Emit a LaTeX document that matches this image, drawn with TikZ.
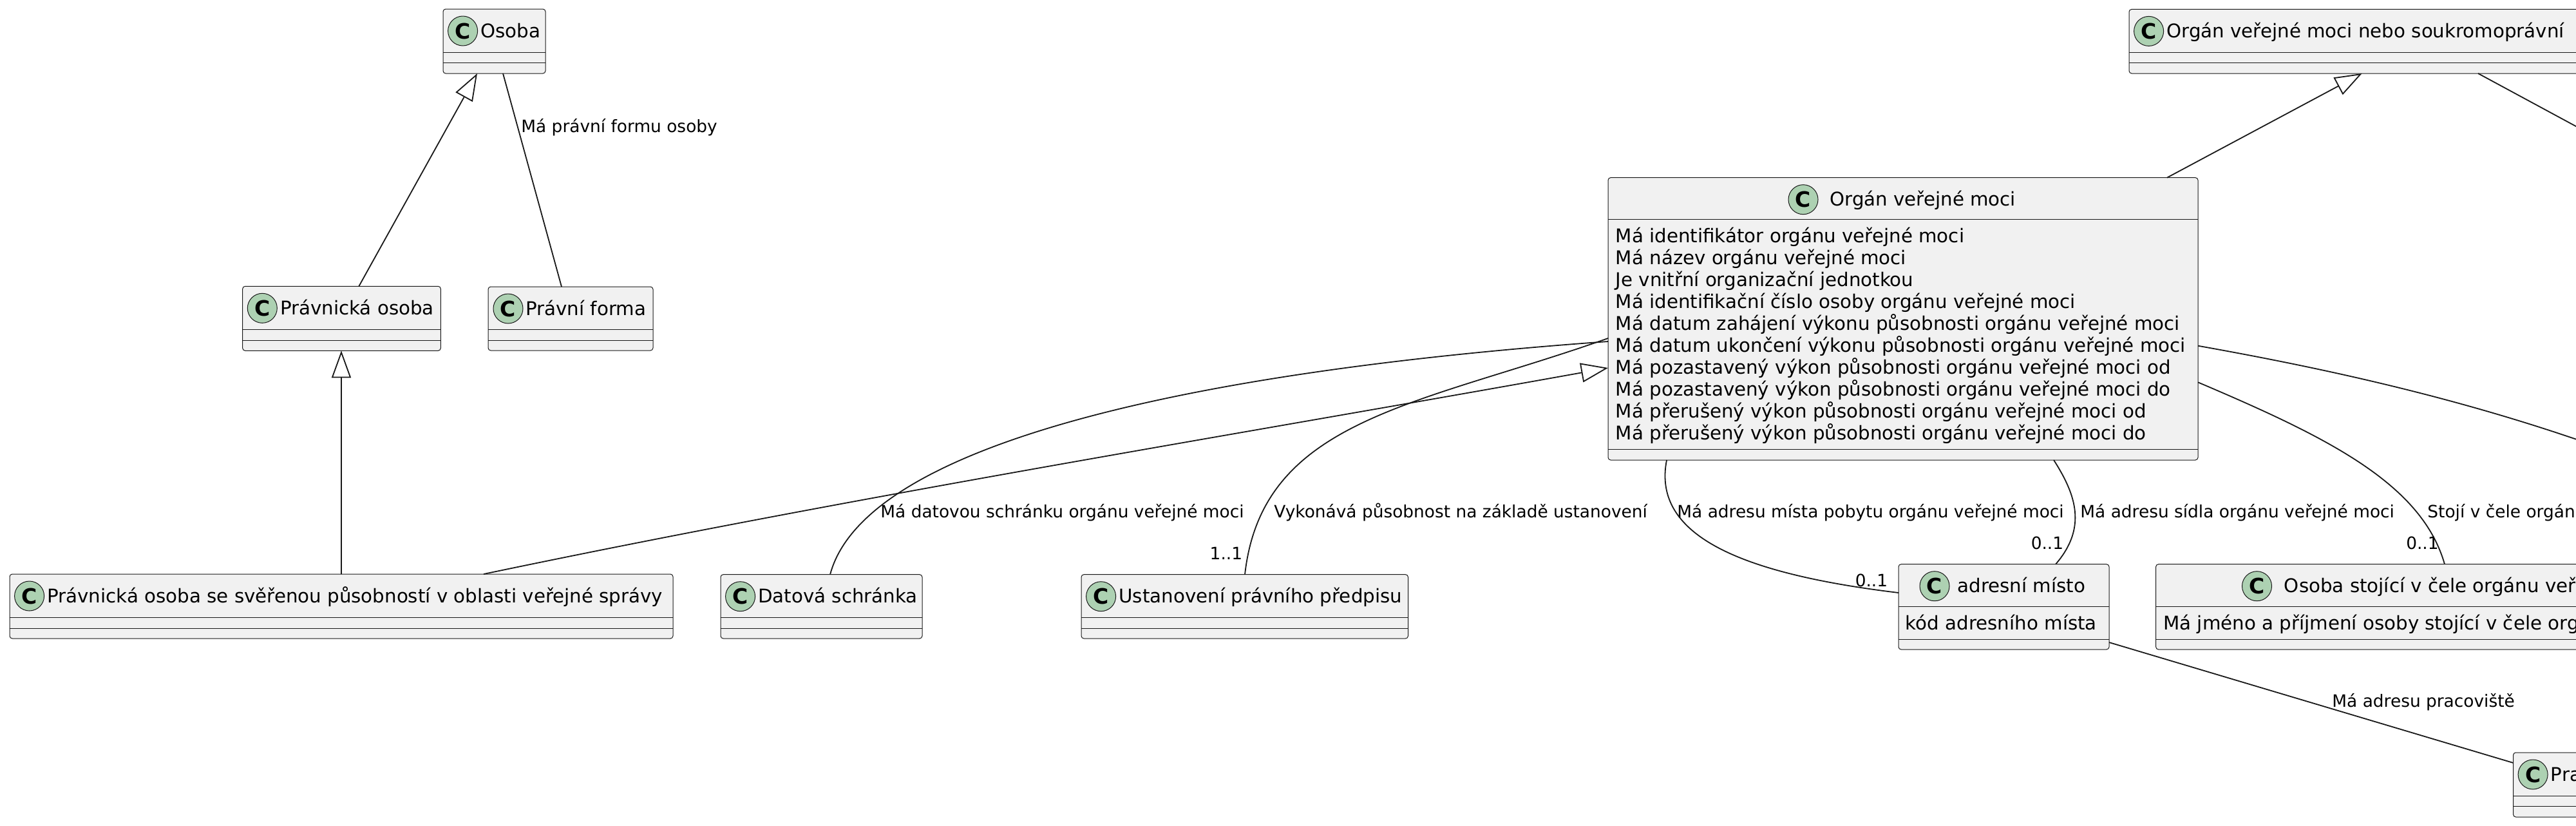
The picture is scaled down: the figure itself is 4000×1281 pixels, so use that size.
\documentclass[tikz,border=0pt]{standalone}
\usepackage{fontspec}
\setmainfont{DejaVu Sans}
\usetikzlibrary{arrows.meta,calc}
\definecolor{boxfill}{HTML}{F1F1F1}
\definecolor{linecol}{HTML}{181818}
\definecolor{badgefill}{HTML}{ADD1B2}
\newcommand\clsfont{\fontsize{14.65pt}{17pt}\selectfont}
\newcommand\lblfont{\fontsize{13.2pt}{16pt}\selectfont}
\newcommand\umlbox[7]{%
  \node[classbox, minimum width={(#4-#2)*0.5pt}, minimum height={(#5-#3)*0.5pt}] (#1) at (#2,#3) {};
  \draw[sepline] (#2,#6) -- (#4,#6);
  \draw[sepline] (#2,#7) -- (#4,#7);
}
\tikzset{
  classbox/.style={draw=linecol, fill=boxfill, line width=0.5pt, rounded corners=2pt, anchor=north west, inner sep=0pt, outer sep=0pt},
  sepline/.style={draw=linecol, line width=0.5pt},
  badge/.style={circle, draw=linecol, fill=badgefill, line width=0.5pt, minimum size=23pt, inner sep=0pt, font=\bfseries\fontsize{16.5pt}{16.5pt}\selectfont},
  ctext/.style={anchor=base west, inner sep=0pt, font=\clsfont},
  lbl/.style={anchor=base west, inner sep=0pt, font=\lblfont},
  mult/.style={anchor=base east, inner sep=0pt, font=\lblfont},
  assoc/.style={draw=linecol, line width=0.9pt},
  gener/.style={assoc, -{Triangle[length=21pt,width=15pt,fill=white]}},
}
\begin{document}
\begin{tikzpicture}[x=0.5pt,y=-0.5pt]
\useasboundingbox (0,0) rectangle (4000,1281);
\fill[white] (0,0) rectangle (4000,1281);
\clip (0,0) rectangle (4000,1281);

% ---------- classes ----------
\umlbox{osoba}{688}{14}{847}{114}{81}{97.5}
\node[badge] (osoba-c) at (718.6,48) {C};
\node[ctext] (osoba-t) at (746,58) {Osoba};

\umlbox{pravos}{376.7}{444.3}{684.3}{544.3}{511}{528.3}
\node[badge] (pravos-c) at (407.3,478.3) {C};
\node[ctext] (pravos-t) at (434.7,488.3) {Právnická osoba};

\umlbox{pforma}{758}{445}{1014}{544}{511}{528}
\node[badge] (pforma-c) at (789,479) {C};
\node[ctext] (pforma-t) at (816,489) {Právní forma};

\umlbox{psv}{15}{891}{1045}{991}{958}{975}
\node[badge] (psv-c) at (45.6,925) {C};
\node[ctext] (psv-t) at (73,935) {Právnická osoba se svěřenou působností v oblasti veřejné správy};

\umlbox{dat}{1119}{891.7}{1432}{991}{958}{975}
\node[badge] (dat-c) at (1149.6,925.7) {C};
\node[ctext] (dat-t) at (1177,935.7) {Datová schránka};

\umlbox{ust}{1679}{891.7}{2186.5}{991}{958}{975}
\node[badge] (ust-c) at (1709.6,925.7) {C};
\node[ctext] (ust-t) at (1737,935.7) {Ustanovení právního předpisu};

\umlbox{ovm}{2497}{275.7}{3413}{714}{340.7}{697}
\node[badge] (ovm-c) at (2800,309.7) {C};
\node[ctext] (ovm-t) at (2841,319.7) {Orgán veřejné moci};
\foreach \t [count=\i] in {Má identifikátor orgánu veřejné moci,
  Má název orgánu veřejné moci,
  Je vnitřní organizační jednotkou,
  Má identifikační číslo osoby orgánu veřejné moci,
  Má datum zahájení výkonu působnosti orgánu veřejné moci,
  Má datum ukončení výkonu působnosti orgánu veřejné moci,
  Má pozastavený výkon působnosti orgánu veřejné moci od,
  Má pozastavený výkon působnosti orgánu veřejné moci do,
  Má přerušený výkon působnosti orgánu veřejné moci od,
  Má přerušený výkon působnosti orgánu veřejné moci do}
  {\node[ctext] (ovm-a\i) at (2508.5,{376.7+(\i-1)*34}) {\t};}

\umlbox{adr}{2948}{875.7}{3275}{1008}{941.7}{992}
\node[badge] (adr-c) at (3004,909.7) {C};
\node[ctext] (adr-t) at (3039,919.7) {adresní místo};
\node[ctext] (adr-a1) at (2958.5,977) {kód adresního místa};

\umlbox{osc}{3347.6}{875.7}{4100}{1008}{941.7}{992}
\node[badge] (osc-c) at (3504.5,909.7) {C};
\node[ctext] (osc-t) at (3546.5,919.7) {Osoba stojící v čele orgánu veř};
\node[ctext] (osc-a1) at (3359,977) {Má jméno a příjmení osoby stojící v čele org};

\umlbox{pra}{3902.5}{1168}{4100}{1268}{1235.7}{1251.7}
\node[badge] (pra-c) at (3933.1,1202) {C};
\node[ctext] (pra-t) at (3960.5,1212) {Pra};

\umlbox{top}{3306}{14.4}{4100}{114}{81.3}{97.6}
\node[badge] (top-c) at (3336.6,48.4) {C};
\node[ctext] (top-t) at (3364,58.4) {Orgán veřejné moci nebo soukromoprávní};

% ---------- free ends leaving the picture ----------
\coordinate (offr1) at (4000,681.7);
\coordinate (offr2) at (4060,228.5);

% ---------- connectors ----------
\draw[gener] ($(pravos.north west)+(180.6,0)$) -- ($(osoba.south west)+(53,0)$);
\draw[assoc] ($(osoba.south west)+(93,0)$) -- ($(pforma.north west)+(114,0)$);
\node[lbl] (l-forma) at (809,205) {Má právní formu osoby};

\draw[gener] ($(psv.north west)+(515,0)$) -- ($(pravos.south west)+(153.3,0)$);
\draw[gener] ($(psv.north west)+(736,0)$) .. controls (1333,769) and (1915,675.6) .. ($(ovm.north west)+(0,295.3)$);

\draw[assoc] ($(dat.north west)+(170,0)$) .. controls (1340,700) and (1800,580) .. ($(ovm.north west)+(0,254.3)$);
\node[lbl] (l-dat) at (1367,803) {Má datovou schránku orgánu veřejné moci};

\draw[assoc] ($(ust.north west)+(254,0)$) .. controls (1960,650) and (2200,630) .. ($(ovm.north west)+(0,249.3)$);
\node[lbl] (l-ust) at (1978,803) {Vykonává působnost na základě ustanovení};
\node[mult] (m-ust) at (1929.5,868) {1..1};

\draw[assoc] ($(ovm.south west)+(91,0)$) .. controls (2565,830) and (2700,890) .. ($(adr.north west)+(0,44.3)$);
\node[lbl] (l-pobyt) at (2604,803) {Má adresu místa pobytu orgánu veřejné moci};
\node[mult] (m-pobyt) at (2931.5,910) {0..1};

\draw[assoc] ($(ovm.south west)+(692,0)$) .. controls (3225,770) and (3240,820) .. ($(adr.north west)+(244,0)$);
\node[lbl] (l-sidlo) at (3230,803) {Má adresu sídla orgánu veřejné moci};
\node[mult] (m-sidlo) at (3204.5,852) {0..1};

\draw[assoc] ($(ovm.north east)+(0,317.6)$) .. controls (3613,678.3) and (3760,750) .. ($(osc.north west)+(448.4,0)$);
\node[lbl] (l-cele) at (3769,803) {Stojí v čele orgán};
\node[mult] (m-cele) at (3787,852) {0..1};

\draw[assoc] ($(ovm.north east)+(0,261)$) .. controls (3610,571.8) and (3804,615) .. (offr1);

\draw[gener] ($(ovm.north west)+(868,0)$) -- ($(top.south west)+(361.6,0)$);
\draw[assoc] ($(top.south west)+(542,0)$) -- (offr2);

\draw[assoc] ($(adr.north east)+(0,121.3)$) -- ($(pra.north west)+(0,16)$);
\node[lbl] (l-prac) at (3621,1097) {Má adresu pracoviště};
\end{tikzpicture}
\end{document}
